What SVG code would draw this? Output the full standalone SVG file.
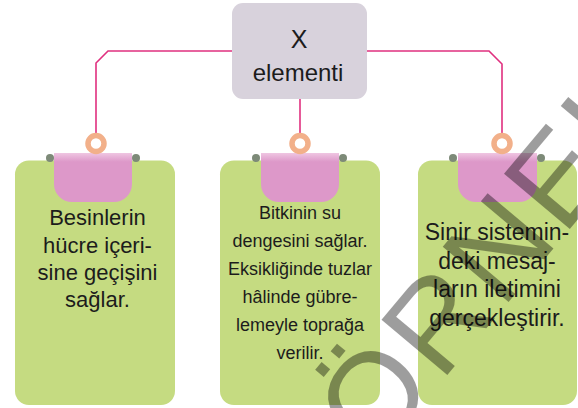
<svg xmlns="http://www.w3.org/2000/svg" width="578" height="408" viewBox="0 0 578 408">
<defs>
<linearGradient id="tabGrad" x1="0" y1="0" x2="0" y2="1">
<stop offset="0" stop-color="#efc6e2"/>
<stop offset="0.18" stop-color="#dd98c9"/>
<stop offset="1" stop-color="#dd98c9"/>
</linearGradient>
</defs>
<style>
.card{fill:#c5db81;}
.tab{fill:url(#tabGrad);}
.dot{fill:#7d8a78;}
.ring{fill:#fff;stroke:#f2b08a;stroke-width:5.5;}
.conn{fill:none;stroke:#e0307f;stroke-width:1.6;}
.t{font-family:"Liberation Sans",Arial,sans-serif;fill:#1c1c1c;text-anchor:middle;}
.big{font-size:22px;}
.mid{font-size:18px;}
.wm{font-family:"Liberation Sans",Arial,sans-serif;font-size:125px;letter-spacing:5px;fill:#000;opacity:0.38;}
</style>
<rect width="578" height="408" fill="#fff"/>
<g id="connectors">
<path class="conn" d="M232,51 H108 L96,63 V133"/>
<path class="conn" d="M367,51 H489 L502,64 V133"/>
<path class="conn" d="M300,99 V133"/>
</g>
<g id="node-x">
<rect x="232" y="3" width="135" height="96" rx="11" fill="#d8d2dc"/>
<text class="t" x="299" y="48" font-size="25">X</text>
<text class="t" x="298" y="81" font-size="24">elementi</text>
</g>
<g id="node-1">
<rect class="card" x="15" y="160.5" width="160" height="244.5" rx="14"/>
<path class="tab" d="M54,153 H132 V184 A18,18 0 0 1 114,202 H72 A18,18 0 0 1 54,184 Z"/>
<circle class="dot" cx="50" cy="158" r="4"/>
<circle class="dot" cx="136" cy="158" r="4"/>
<circle class="ring" cx="96" cy="143.5" r="8"/>
<text class="t big" x="97.5"><tspan x="97.5" y="225">Besinlerin</tspan><tspan x="97.5" y="252.5">hücre içeri-</tspan><tspan x="97.5" y="280">sine geçişini</tspan><tspan x="97.5" y="307">sağlar.</tspan></text>
</g>
<g id="node-2">
<rect class="card" x="220" y="160.5" width="160" height="244.5" rx="14"/>
<path class="tab" d="M261,153 H339 V184 A18,18 0 0 1 321,202 H279 A18,18 0 0 1 261,184 Z"/>
<circle class="dot" cx="256" cy="158" r="4"/>
<circle class="dot" cx="343" cy="158" r="4"/>
<circle class="ring" cx="300" cy="143.5" r="8"/>
<text class="t mid" x="300"><tspan x="300" y="219">Bitkinin su</tspan><tspan x="300" y="247">dengesini sağlar.</tspan><tspan x="300" y="275">Eksikliğinde tuzlar</tspan><tspan x="300" y="303">hâlinde gübre-</tspan><tspan x="300" y="331">lemeyle toprağa</tspan><tspan x="300" y="359">verilir.</tspan></text>
</g>
<g id="node-3">
<rect class="card" x="418" y="160.5" width="159" height="244.5" rx="14"/>
<path class="tab" d="M458,153 H537 V184 A18,18 0 0 1 519,202 H476 A18,18 0 0 1 458,184 Z"/>
<circle class="dot" cx="453" cy="158" r="4"/>
<circle class="dot" cx="541" cy="158" r="4"/>
<circle class="ring" cx="502" cy="143.5" r="8"/>
<text class="t" x="497" font-size="23"><tspan x="497" y="240">Sinir sistemin-</tspan><tspan x="497" y="268.5">deki mesaj-</tspan><tspan x="497" y="297">ların iletimini</tspan><tspan x="497" y="326">gerçekleştirir.</tspan></text>
</g>
<text class="wm" transform="translate(375,461) rotate(-50)">ÖRNEK</text>
</svg>
